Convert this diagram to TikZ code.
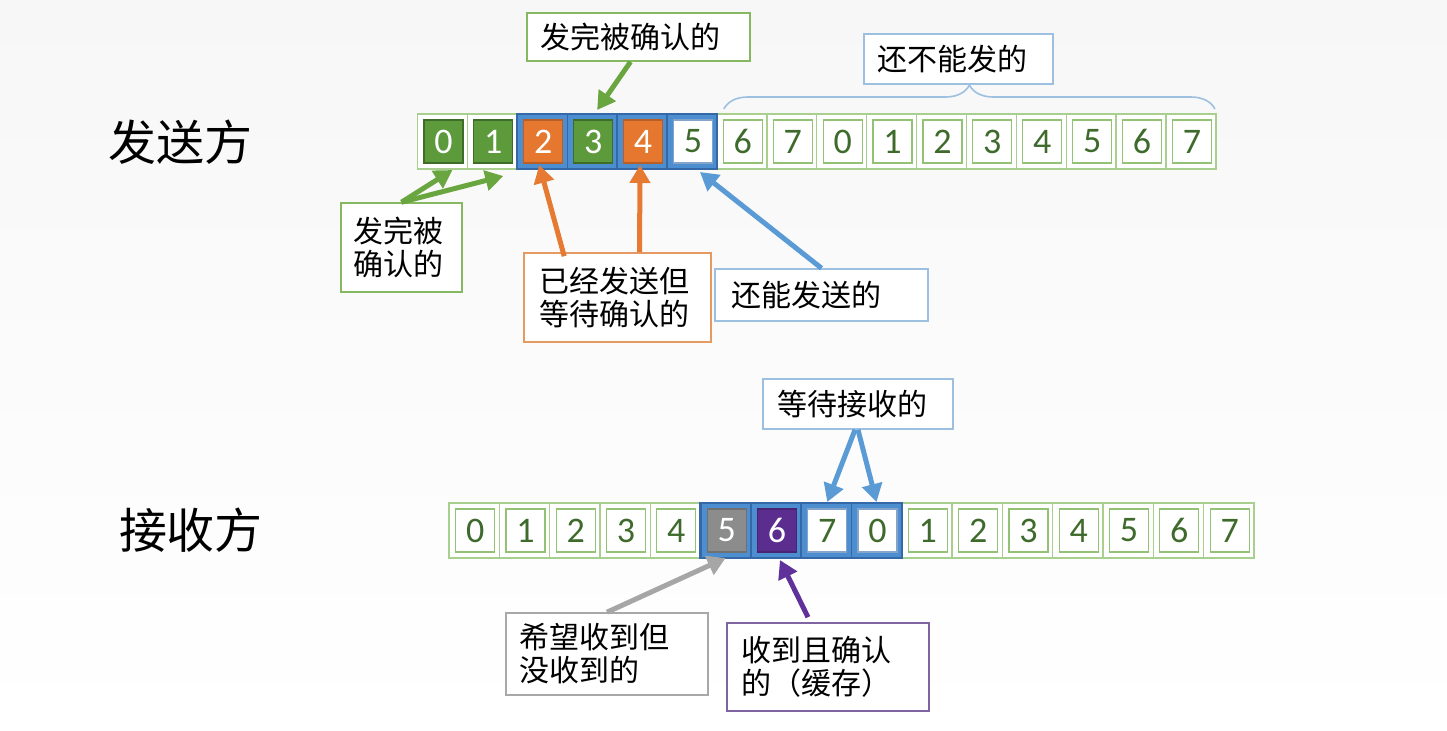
\documentclass[tikz,border=0pt]{standalone}
\usepackage{fontspec}
\setmainfont{Carlito}
\newfontfamily\cjk{Noto Sans CJK SC}
\usetikzlibrary{arrows.meta,calc,decorations.pathreplacing}
\definecolor{cellG}{HTML}{A9CF8E}
\definecolor{innG}{HTML}{94C275}
\definecolor{digG}{HTML}{3E6B2C}
\definecolor{fillG}{HTML}{5C9A3B}
\definecolor{fillO}{HTML}{E5772F}
\definecolor{fillGr}{HTML}{8C8C8C}
\definecolor{fillP}{HTML}{5B2D8E}
\definecolor{winB}{HTML}{4C8ECF}
\definecolor{winD}{HTML}{3468A6}
\definecolor{arG}{HTML}{6AA63F}
\definecolor{arO}{HTML}{E67A32}
\definecolor{arB}{HTML}{5B9BD5}
\definecolor{arGr}{HTML}{A6A6A6}
\definecolor{arP}{HTML}{60319A}
\definecolor{labG}{HTML}{86B862}
\definecolor{labO}{HTML}{E59A62}
\definecolor{labB}{HTML}{9DBFE0}
\definecolor{labGr}{HTML}{A8A8A8}
\definecolor{labP}{HTML}{8064A2}
\definecolor{bgTop}{HTML}{F7F7F7}
\definecolor{bgMid}{HTML}{EEEEEE}
\begin{document}
\begin{tikzpicture}[x=0.5pt,y=-0.5pt,
  cellbase/.style={line width=0.7pt, minimum height=27.5pt, inner sep=0pt, outer sep=0pt},
  sc/.style={cellbase, draw=cellG, fill=white, minimum width=24.95pt},
  swc/.style={cellbase, draw=winD, fill=winB, minimum width=24.95pt},
  rc/.style={cellbase, draw=cellG, fill=white, minimum width=25.15pt},
  rwc/.style={cellbase, draw=winD, fill=winB, minimum width=25.15pt},
  sq/.style={line width=0.6pt, minimum width=19.5pt, minimum height=21.5pt, inner sep=0pt, font=\fontsize{18}{18}\selectfont},
  sqplain/.style={sq, draw=innG, fill=white, text=digG},
  sqwhite/.style={sq, draw=winD!60, fill=white, text=digG},
  sqgreen/.style={sq, draw=fillG!70!black, fill=fillG, text=white},
  sqorange/.style={sq, draw=fillO!80!black, fill=fillO, text=white},
  sqgray/.style={sq, draw=fillGr!80!black, fill=fillGr, text=white},
  sqpurple/.style={sq, draw=fillP!80!black, fill=fillP, text=white},
  lab/.style={fill=white, line width=0.8pt, inner ysep=0pt, font=\cjk\fontsize{15}{16.5}\selectfont, align=left},
  title/.style={font=\cjk\fontsize{24}{24}\selectfont, text=black},
  arr/.style={line width=2.5pt, -{Triangle[width=10pt,length=9pt]}},
  win/.style={draw=winD, line width=1.1pt}
]
\useasboundingbox (0,0) rectangle (1447,730);
\shade[top color=bgTop, middle color=bgMid, bottom color=white] (0,0) rectangle (1447,730);

% titles
\node[title] (sendT) at (180,142) {发送方};
\node[title] (recvT) at (191,530) {接收方};

% sender cells
\foreach \i/\d/\os/\is in {0/0/sc/sqgreen,1/1/sc/sqgreen,2/2/swc/sqorange,3/3/swc/sqgreen,4/4/swc/sqorange,5/5/swc/sqwhite,6/6/sc/sqplain,7/7/sc/sqplain,8/0/sc/sqplain,9/1/sc/sqplain,10/2/sc/sqplain,11/3/sc/sqplain,12/4/sc/sqplain,13/5/sc/sqplain,14/6/sc/sqplain,15/7/sc/sqplain}{
  \node[\os] (s\i) at ({417.5+(\i+0.5)*49.9},141.5) {};
}
\draw[win] (s2.north west) rectangle (s5.south east);
\foreach \i/\d/\os/\is in {0/0/sc/sqgreen,1/1/sc/sqgreen,2/2/swc/sqorange,3/3/swc/sqgreen,4/4/swc/sqorange,5/5/swc/sqwhite,6/6/sc/sqplain,7/7/sc/sqplain,8/0/sc/sqplain,9/1/sc/sqplain,10/2/sc/sqplain,11/3/sc/sqplain,12/4/sc/sqplain,13/5/sc/sqplain,14/6/sc/sqplain,15/7/sc/sqplain}{
  \node[\is] (si\i) at ($(s\i.center)+(1,0)$) {\d};
}

% receiver cells
\foreach \i/\d/\os/\is in {0/0/rc/sqplain,1/1/rc/sqplain,2/2/rc/sqplain,3/3/rc/sqplain,4/4/rc/sqplain,5/5/rwc/sqgray,6/6/rwc/sqpurple,7/7/rwc/sqwhite,8/0/rwc/sqwhite,9/1/rc/sqplain,10/2/rc/sqplain,11/3/rc/sqplain,12/4/rc/sqplain,13/5/rc/sqplain,14/6/rc/sqplain,15/7/rc/sqplain}{
  \node[\os] (r\i) at ({449+(\i+0.5)*50.3},530.5) {};
}
\draw[win] (r5.north west) rectangle (r6.south east);
\draw[win] (r7.north west) rectangle (r8.south east);
\foreach \i/\d/\os/\is in {0/0/rc/sqplain,1/1/rc/sqplain,2/2/rc/sqplain,3/3/rc/sqplain,4/4/rc/sqplain,5/5/rwc/sqgray,6/6/rwc/sqpurple,7/7/rwc/sqwhite,8/0/rwc/sqwhite,9/1/rc/sqplain,10/2/rc/sqplain,11/3/rc/sqplain,12/4/rc/sqplain,13/5/rc/sqplain,14/6/rc/sqplain,15/7/rc/sqplain}{
  \node[\is] (ri\i) at ($(r\i.center)+(1,0)$) {\d};
}

% labels
\node[lab, draw=labG, text width=98.5pt, inner xsep=6.5pt, minimum height=24pt] (topLab) at (638.5,37) {发完被确认的};
\node[lab, draw=labB, text width=81.5pt, inner xsep=6.5pt, minimum height=25pt] (notLab) at (958.5,59) {还不能发的};
\node[lab, draw=labG, text width=48.5pt, inner xsep=6pt, minimum height=44.5pt] (ackLab) at (401.5,247.5) {发完被\\确认的};
\node[lab, draw=labO, text width=78.5pt, inner xsep=7.5pt, minimum height=44.5pt] (sentLab) at (617.5,297.5) {已经发送但\\等待确认的};
\node[lab, draw=labB, text width=90.5pt, inner xsep=8pt, minimum height=26pt] (canLab) at (821.5,295) {还能发送的};
\node[lab, draw=labB, text width=81pt, inner xsep=7pt, minimum height=25pt] (waitLab) at (858,404) {等待接收的};
\node[lab, draw=labGr, text width=88pt, inner xsep=6.5pt, minimum height=41pt] (hopeLab) at (607,654) {希望收到但\\没收到的};
\node[lab, draw=labP, text width=87pt, inner xsep=7pt, minimum height=44pt] (recvLab) at (828,667) {收到且确认\\的（缓存）};

% brace
\coordinate (bl) at ($(s6.north west)+(7,-5)$);
\coordinate (br) at ($(s15.north east)+(-1,-5)$);
\draw[labB, line width=0.8pt, decorate, decoration={brace, amplitude=12pt}] (bl) -- (br);

% sender arrows
\draw[arr, arG] ($(topLab.south)+(-8,0)$) -- ($(s3.north)+(5,-4)$);
\draw[arr, arG] (ackLab.north) -- ($(s0.south)+(10,1)$);
\draw[arr, arG] (ackLab.north) -- ($(s1.south)+(11,7)$);
\draw[arr, arO] ($(sentLab.north west)+(41,4)$) -- ($(s2.south)+(-3,-4)$);
\draw[arr, arO] ($(sentLab.north)+(22,0)$) -- ($(s4.south)+(-2,-4)$);
\draw[arr, arB] (canLab.north) -- ($(s5.south)+(8,3)$);

% receiver arrows
\draw[arr, arB] ($(waitLab.south)+(-3,0)$) -- ($(r7.north)+(1,-1)$);
\draw[arr, arB] ($(waitLab.south)+(0,0)$) -- ($(r8.north)+(0,-1)$);
\draw[arr, arGr] (hopeLab.north) -- (r5.south);
\draw[arr, arP] ($(recvLab.north)+(-20,-5)$) -- ($(r6.south)+(4,2)$);
\end{tikzpicture}
\end{document}
